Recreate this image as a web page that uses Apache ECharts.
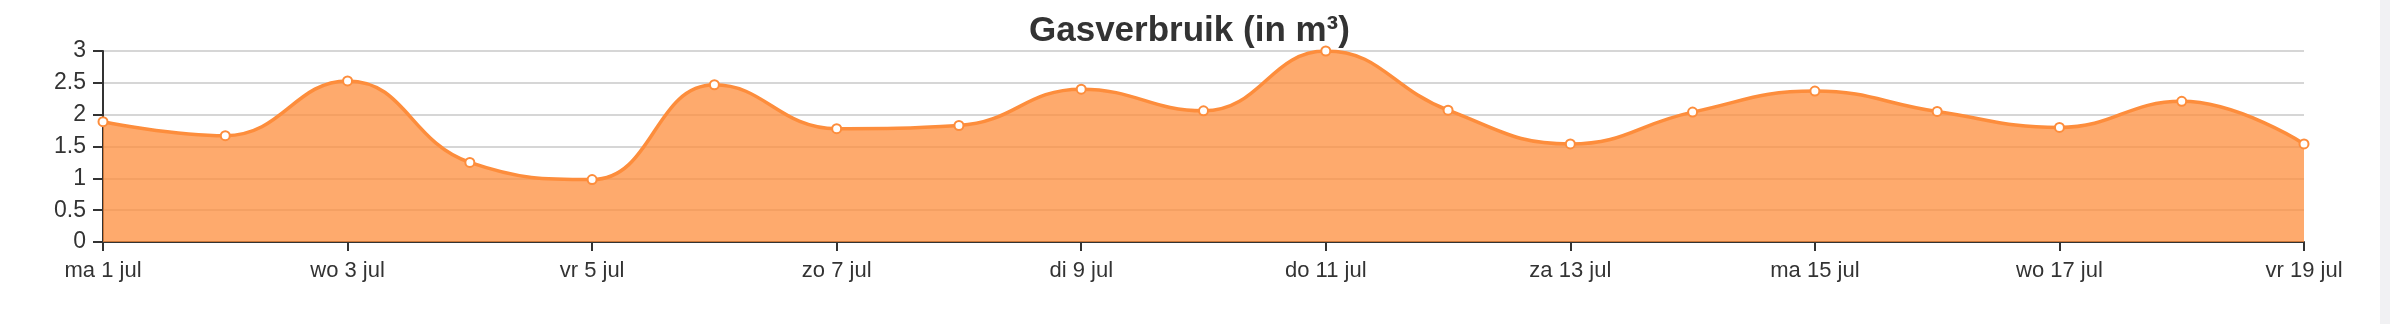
<!DOCTYPE html>
<html>
<head>
<meta charset="utf-8">
<script src="https://cdn.jsdelivr.net/npm/echarts@6/dist/echarts.min.js"></script>
<style>
html,body{margin:0;padding:0;background:#fff;}
#chart{width:2390px;height:324px;}
</style>
</head>
<body>
<div id="chart"></div>
<script>
const titleText = 'Gasverbruik (in m³)';
const categories = ['ma 1 jul','di 2 jul','wo 3 jul','do 4 jul','vr 5 jul','za 6 jul','zo 7 jul','ma 8 jul','di 9 jul','wo 10 jul','do 11 jul','vr 12 jul','za 13 jul','zo 14 jul','ma 15 jul','di 16 jul','wo 17 jul','do 18 jul','vr 19 jul'];
const gasValues = [1.89, 1.67, 2.53, 1.25, 0.98, 2.47, 1.78, 1.83, 2.40, 2.06, 3.00, 2.07, 1.54, 2.04, 2.37, 2.05, 1.80, 2.21, 1.54];
const yTicks = [0, 0.5, 1, 1.5, 2, 2.5, 3];

const chart = echarts.init(document.getElementById('chart'), null, {renderer: 'canvas'});
const font = '"Liberation Sans", Arial, Helvetica, sans-serif';
chart.setOption({
  animation: false,
  backgroundColor: '#ffffff',
  title: {
    text: titleText,
    left: 1024,
    top: 9,
    textStyle: {fontFamily: font, fontSize: 35, fontWeight: 'bold', color: '#333333'}
  },
  graphic: [{
    type: 'rect',
    shape: {x: 2380, y: 0, width: 10, height: 324},
    style: {fill: '#f1f1f3'},
    silent: true
  }],
  grid: {left: 103, right: 86, top: 51, bottom: 82, containLabel: false},
  xAxis: {
    type: 'category',
    data: categories,
    boundaryGap: false,
    axisLine: {show: true, lineStyle: {color: '#333333', width: 2}},
    axisTick: {show: true, interval: 1, length: 9, lineStyle: {color: '#333333', width: 2}},
    axisLabel: {interval: 1, margin: 18, fontFamily: font, fontSize: 22, color: '#333333'},
    splitLine: {show: false}
  },
  yAxis: {
    type: 'value',
    min: yTicks[0],
    max: yTicks[yTicks.length - 1],
    interval: 0.5,
    axisLine: {show: true, lineStyle: {color: '#333333', width: 2}},
    axisTick: {show: true, length: 10, lineStyle: {color: '#333333', width: 2}},
    axisLabel: {margin: 17, fontFamily: font, fontSize: 23, color: '#333333'},
    splitLine: {show: true, lineStyle: {color: '#c8c8c8', width: 1.5}}
  },
  series: [{
    type: 'line',
    data: gasValues,
    smooth: 0.45,
    showAllSymbol: true,
    symbol: 'circle',
    symbolSize: 9,
    lineStyle: {color: '#fd8d3c', width: 3.5},
    itemStyle: {color: '#ffffff', borderColor: '#fd8d3c', borderWidth: 2},
    areaStyle: {color: '#fd8d3c', opacity: 0.75}
  }]
});
</script>
</body>
</html>
